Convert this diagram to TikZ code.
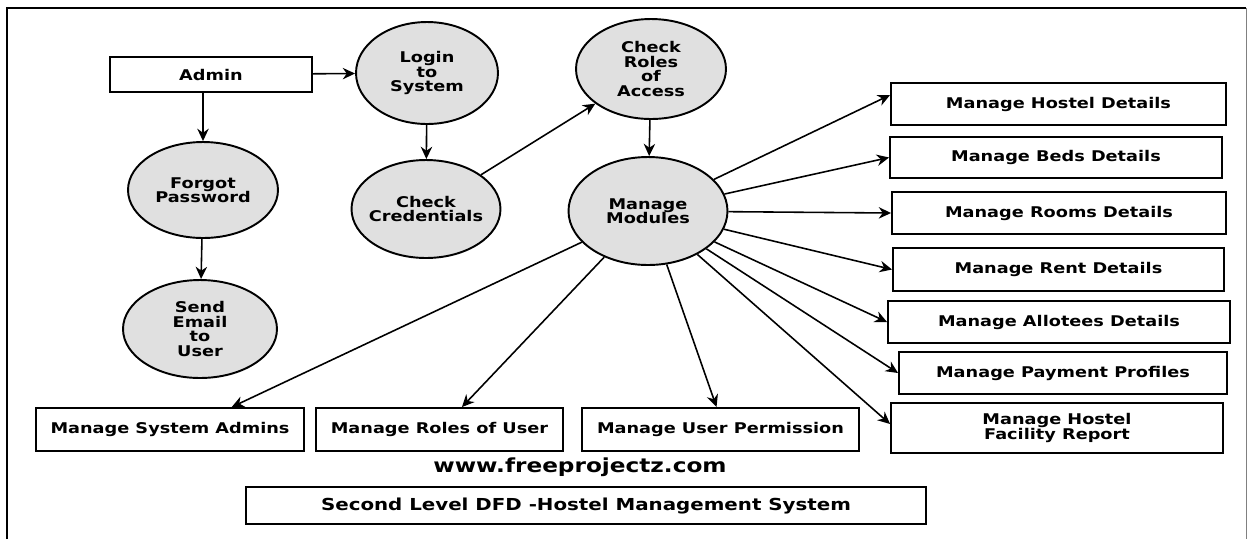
\documentclass[tikz,border=0pt]{standalone}
\usepackage{fontspec}
\usepackage{xcolor}
\usetikzlibrary{shapes.geometric,arrows.meta}

\newfontfamily\dfdfont[FakeStretch=1.2]{DejaVu Sans}
\newcommand{\dfdtext}{\dfdfont\bfseries\fontsize{8.4}{8.2}\selectfont}
\definecolor{procgray}{RGB}{224,224,224}

\tikzset{
    proc/.style={ellipse, draw, line width=1.1pt, fill=procgray, inner sep=0pt, align=center, font=\dfdtext},
    ext/.style={rectangle, draw, line width=1.1pt, fill=white, inner sep=0pt, align=center, font=\dfdtext},
    flow/.style={-{Stealth[length=7pt,width=6.5pt]}, line width=0.9pt},
}

\begin{document}
\begin{tikzpicture}[x=0.02cm, y=-0.02cm]
    \useasboundingbox (0,0) rectangle (1249,539);

    % Frame
    \draw[line width=1.3pt] (7,539) -- (7,8) -- (1246,8);
    \draw[gray, line width=0.5pt] (1246,8) -- (1246,539);

    % Admin
    \node[ext, minimum width=4.04cm, minimum height=0.7cm] (admin) at (211,74.5) {Admin};

    % Processes
    \node[proc, minimum width=2.84cm, minimum height=2.04cm] (login) at (427,73) {Login\\to\\System};
    \node[proc, minimum width=3cm, minimum height=1.92cm] (forgot) at (203,190) {Forgot\\Password};
    \node[proc, minimum width=2.98cm, minimum height=1.96cm, inner xsep=-5pt] (cred) at (426,209) {Check\\Credentials};
    \node[proc, minimum width=3.08cm, minimum height=1.96cm] (email) at (200,329) {Send\\Email\\to\\User};
    \node[proc, minimum width=3cm, minimum height=2cm] (roles) at (651,69) {Check\\Roles\\of\\Access};
    \node[proc, minimum width=3.18cm, minimum height=2.16cm] (modules) at (648,211) {Manage\\Modules};

    % Modules on the right
    \node[ext, minimum width=6.7cm, minimum height=0.84cm] (hostel) at (1058.5,104) {Manage Hostel Details};
    \node[ext, minimum width=6.64cm, minimum height=0.82cm] (beds) at (1056,157.5) {Manage Beds Details};
    \node[ext, minimum width=6.68cm, minimum height=0.84cm] (rooms) at (1059,213) {Manage Rooms Details};
    \node[ext, minimum width=6.62cm, minimum height=0.86cm] (rent) at (1058.5,269.5) {Manage Rent Details};
    \node[ext, minimum width=6.84cm, minimum height=0.84cm] (allot) at (1059,322) {Manage Allotees Details};
    \node[ext, minimum width=6.56cm, minimum height=0.84cm] (pay) at (1063,373) {Manage Payment Profiles};
    \node[ext, minimum width=6.64cm, minimum height=1cm] (facility) at (1057,428) {Manage Hostel\\Facility Report};

    % Modules at the bottom
    \node[ext, minimum width=5.36cm, minimum height=0.86cm] (sysadm) at (170,429.5) {Manage System Admins};
    \node[ext, minimum width=4.94cm, minimum height=0.86cm] (userroles) at (439.5,429.5) {Manage Roles of User};
    \node[ext, minimum width=5.54cm, minimum height=0.86cm] (perm) at (720.5,429.5) {Manage User Permission};

    % Labels
    \node[font=\dfdfont\bfseries\fontsize{11}{13}\selectfont] (site) at (580,467) {www.freeprojectz.com};
    \node[ext, minimum width=13.6cm, minimum height=0.74cm, font=\dfdfont\bfseries\fontsize{9.4}{11}\selectfont] (title) at (586,505.5) {Second Level DFD -Hostel Management System};

    % Flows
    \draw[flow] (admin) -- (login);
    \draw[flow] (forgot.north |- admin.south) -- (forgot.north);
    \draw[flow] (login) -- (cred);
    \draw[flow] (forgot) -- (email);
    \draw[flow] (cred) -- (roles);
    \draw[flow] (roles) -- (modules);

    \draw[flow] (modules) -- ([yshift=0.18cm]hostel.west);
    \draw[flow] (modules) -- (beds.west);
    \draw[flow] (modules) -- (rooms.west);
    \draw[flow] (modules) -- (rent.west);
    \draw[flow] (modules) -- (allot.west);
    \draw[flow] (modules) -- (pay.west);
    \draw[flow] (modules) -- ([yshift=0.08cm]facility.west);

    \draw[flow] (modules) -- (sysadm.20);
    \draw[flow] (modules) -- (userroles.45);
    \draw[flow] (modules) -- (perm.100);
\end{tikzpicture}
\end{document}
